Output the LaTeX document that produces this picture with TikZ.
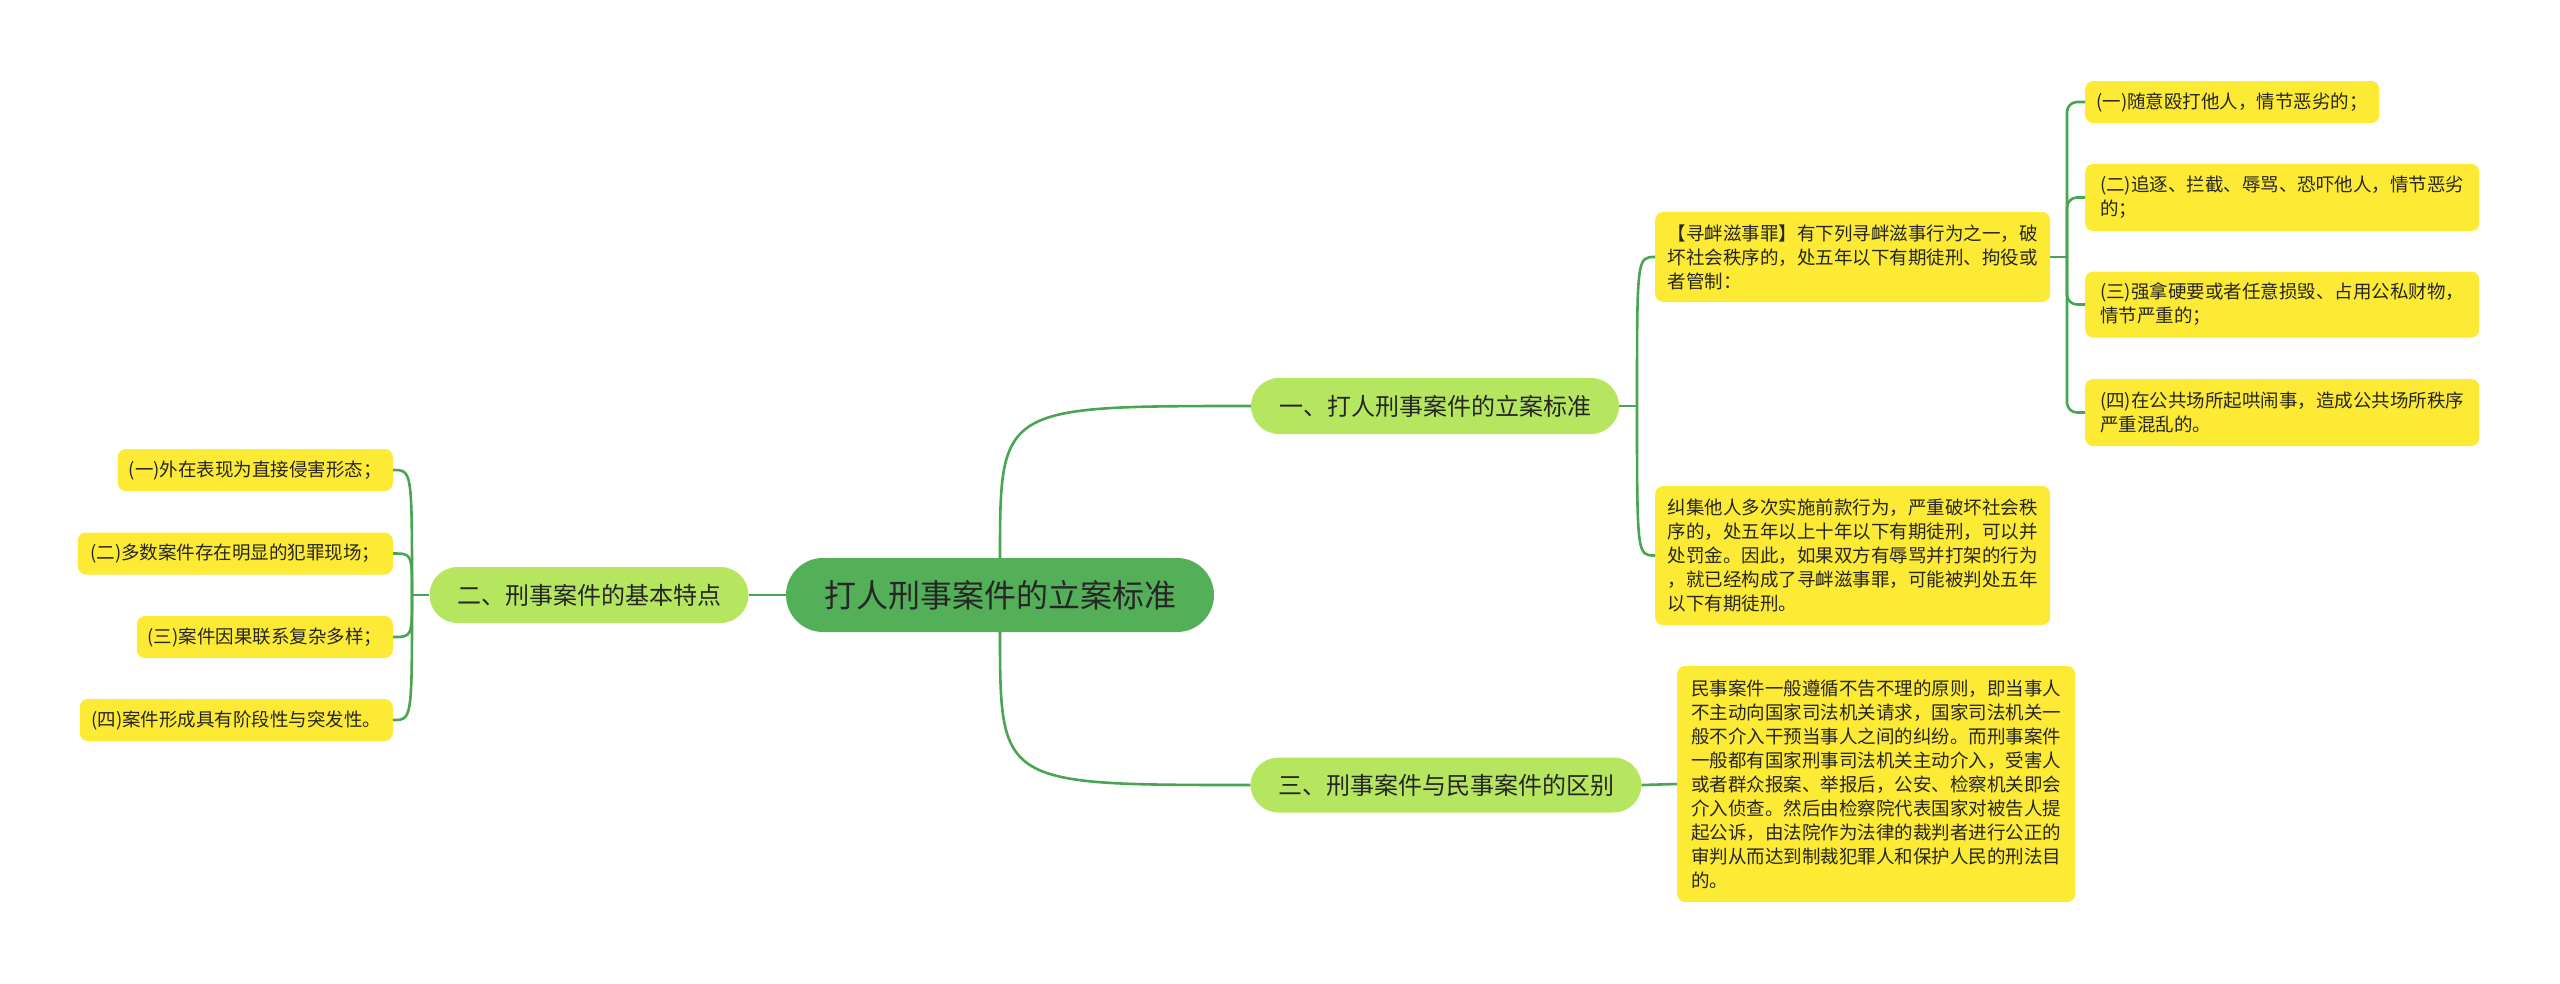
\documentclass[tikz,border=0pt]{standalone}
\usepackage{fontspec}
\newfontfamily\cjk{Noto Sans CJK SC}
\definecolor{rootgreen}{RGB}{84,176,88}
\definecolor{topicgreen}{RGB}{182,230,95}
\definecolor{leafyellow}{RGB}{253,234,52}
\definecolor{linegreen}{RGB}{74,165,82}
\definecolor{inkgray}{RGB}{38,38,38}
\begin{document}
\begin{tikzpicture}[
  x=1pt, y=-1pt,
  mainbox/.style={fill=rootgreen, rounded corners=37pt, minimum width=428pt, minimum height=74pt, text=inkgray, font=\cjk\fontsize{32}{38}\selectfont},
  topicbox/.style={fill=topicgreen, rounded corners=28pt, minimum height=56pt, text=inkgray, font=\cjk\fontsize{24}{30}\selectfont},
  leafbox/.style={fill=leafyellow, rounded corners=8pt, align=left, inner xsep=10pt, inner ysep=4pt, text=inkgray, font=\cjk\fontsize{18.5}{24}\selectfont},
  link/.style={draw=linegreen, line width=2.6pt}
]
\useasboundingbox (0,0) rectangle (2560,983);
\node[mainbox] (root) at (1000,595) {打人刑事案件的立案标准};
\node[topicbox, minimum width=368pt] (b1) at (1435,406) {一、打人刑事案件的立案标准};
\node[topicbox, minimum width=319pt] (b2) at (589,595) {二、刑事案件的基本特点};
\node[topicbox, minimum width=391pt, minimum height=55pt] (b3) at (1446,785) {三、刑事案件与民事案件的区别};
\node[leafbox, anchor=west, minimum width=395pt, minimum height=90pt] (r0) at (1655,257) {【寻衅滋事罪】有下列寻衅滋事行为之一，破\\坏社会秩序的，处五年以下有期徒刑、拘役或\\者管制：};
\node[leafbox, anchor=west, minimum width=294pt, minimum height=42pt] (r1) at (2085,102) {(一)随意殴打他人，情节恶劣的；};
\node[leafbox, anchor=west, minimum width=394pt, minimum height=67pt] (r2) at (2085,197.5) {(二)追逐、拦截、辱骂、恐吓他人，情节恶劣\\的；};
\node[leafbox, anchor=west, minimum width=394pt, minimum height=66pt] (r3) at (2085,304.5) {(三)强拿硬要或者任意损毁、占用公私财物，\\情节严重的；};
\node[leafbox, anchor=west, minimum width=394pt, minimum height=67pt] (r4) at (2085,412.5) {(四)在公共场所起哄闹事，造成公共场所秩序\\严重混乱的。};
\node[leafbox, anchor=west, minimum width=395pt, minimum height=139pt] (r5) at (1655,555.5) {纠集他人多次实施前款行为，严重破坏社会秩\\序的，处五年以上十年以下有期徒刑，可以并\\处罚金。因此，如果双方有辱骂并打架的行为\\，就已经构成了寻衅滋事罪，可能被判处五年\\以下有期徒刑。};
\node[leafbox, anchor=west, minimum width=398pt, minimum height=236pt] (r6) at (1677,784) {民事案件一般遵循不告不理的原则，即当事人\\不主动向国家司法机关请求，国家司法机关一\\般不介入干预当事人之间的纠纷。而刑事案件\\一般都有国家刑事司法机关主动介入，受害人\\或者群众报案、举报后，公安、检察机关即会\\介入侦查。然后由检察院代表国家对被告人提\\起公诉，由法院作为法律的裁判者进行公正的\\审判从而达到制裁犯罪人和保护人民的刑法目\\的。};
\node[leafbox, anchor=east, minimum width=275pt, minimum height=42pt] (l1) at (393,470) {(一)外在表现为直接侵害形态；};
\node[leafbox, anchor=east, minimum width=315pt, minimum height=42pt] (l2) at (393,553.5) {(二)多数案件存在明显的犯罪现场；};
\node[leafbox, anchor=east, minimum width=256pt, minimum height=42pt] (l3) at (393,637) {(三)案件因果联系复杂多样；};
\node[leafbox, anchor=east, minimum width=313pt, minimum height=42pt] (l4) at (393,720) {(四)案件形成具有阶段性与突发性。};
\coordinate (b1sp) at (1637,406);
\coordinate (b2sp) at (412,595);
\coordinate (r0sp) at (2067,257);
\draw[link] (root.north) .. controls (root.north |- b1.west) .. (b1.west);
\draw[link] (root.south) .. controls (root.south |- b3.west) .. (b3.west);
\draw[link] (root.west) -- (b2.east);
\draw[link] (b2.west) -- (b2sp);
\foreach \n in {l1,l2,l3,l4}
  \draw[link] (b2sp) .. controls (b2sp |- \n.east) .. (\n.east);
\draw[link] (b1.east) -- (b1sp);
\draw[link] (b1sp) .. controls (b1sp |- r0.west) .. (r0.west);
\draw[link] (b1sp) .. controls (b1sp |- r5.west) .. (r5.west);
\draw[link] (r0.east) -- (r0sp);
\foreach \n in {r1,r2,r3,r4}
  \draw[link, rounded corners=10pt] (r0sp) |- (\n.west);
\draw[link] (b3.east) -- (r6.west);
\end{tikzpicture}
\end{document}
